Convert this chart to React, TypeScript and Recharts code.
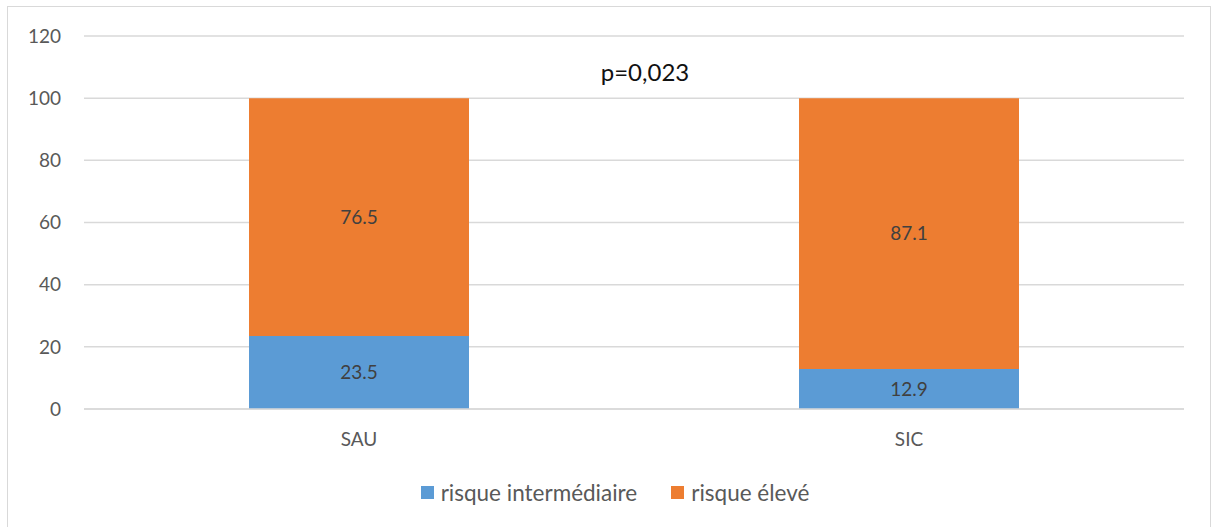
import React from 'react';
import { BarChart, Bar, XAxis, YAxis, CartesianGrid, Legend, LabelList } from 'recharts';

const categories = ['SAU', 'SIC'];
const intermediaire = [23.5, 12.9];
const eleve = [76.5, 87.1];
const yTicks = [0, 20, 40, 60, 80, 100, 120];
const seriesNames = ['risque intermédiaire', 'risque élevé'];
const annotation = 'p=0,023';

const data = categories.map((c, i) => ({ name: c, inter: intermediaire[i], eleve: eleve[i] }));

const FONT = 'Lato, "Open Sans", sans-serif';
const BLUE = '#5B9BD5';
const ORANGE = '#ED7D31';

const LegendContent = () => (
  <div style={{ display: 'flex', justifyContent: 'center', alignItems: 'center', fontFamily: FONT, fontSize: 22.5, color: '#595959', paddingLeft: 46, paddingTop: 6 }}>
    {seriesNames.map((n, i) => (
      <div key={n} style={{ display: 'flex', alignItems: 'center', marginRight: i === 0 ? 34 : 0 }}>
        <span style={{ display: 'inline-block', width: 13, height: 13, background: i === 0 ? BLUE : ORANGE, marginRight: 7 }} />
        <span>{n}</span>
      </div>
    ))}
  </div>
);

export default function App() {
  return (
    <div style={{ position: 'absolute', left: 0, top: 0, width: 1213, height: 527, background: '#fff' }}>
      <div style={{ position: 'absolute', left: 7, top: 6, width: 1204, height: 530, border: '1px solid #d9d9d9', boxSizing: 'border-box' }} />
      <div style={{ position: 'absolute', left: 0, top: 0 }}>
        <BarChart width={1213} height={527} data={data} margin={{ top: 36, right: 29, left: 0, bottom: 14 }} barCategoryGap="30%">
          <CartesianGrid vertical={false} stroke="#d9d9d9" strokeWidth={1.5} />
          <XAxis dataKey="name" axisLine={{ stroke: '#d9d9d9', strokeWidth: 1.5 }} tickLine={false} tickSize={0} tickMargin={24} height={64}
            tick={{ fill: '#595959', fontSize: 19, fontFamily: FONT }} />
          <YAxis domain={[0, 120]} ticks={yTicks} axisLine={false} tickLine={false} tickSize={0} tickMargin={23} width={84}
            tick={{ fill: '#595959', fontSize: 19, fontFamily: FONT }} />
          <Legend verticalAlign="bottom" height={40} content={<LegendContent />} />
          <Bar dataKey="inter" stackId="a" fill={BLUE} isAnimationActive={false} name={seriesNames[0]}>
            <LabelList dataKey="inter" position="center" fill="#404040" fontSize={19} fontFamily={FONT} />
          </Bar>
          <Bar dataKey="eleve" stackId="a" fill={ORANGE} isAnimationActive={false} name={seriesNames[1]}>
            <LabelList dataKey="eleve" position="center" fill="#404040" fontSize={19} fontFamily={FONT} />
          </Bar>
        </BarChart>
      </div>
      <div style={{ position: 'absolute', left: 545, width: 200, top: 57, textAlign: 'center', fontFamily: FONT, fontSize: 24, color: '#111', lineHeight: '30px' }}>
        {annotation}
      </div>
    </div>
  );
}
